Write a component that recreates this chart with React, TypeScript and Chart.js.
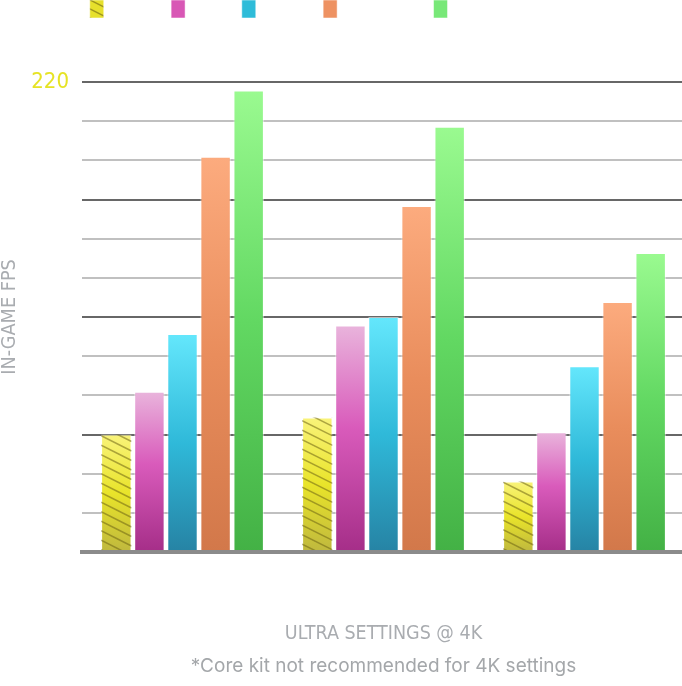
import React, { useEffect, useRef } from 'react';
import { Chart, registerables } from 'chart.js';

Chart.register(...registerables);

// ---------- data ----------
const categories = ['Fortnite', 'Call of Duty: Warzone', 'Cyberpunk 2077'];
const seriesLabels = ['Core Kit *', 'Plus Kit', 'Power Kit', 'Enthusiast Kit+', 'Ultimate Kit + RTX 4090 Ti'];
const coreKit = [55, 63, 33];
const plusKit = [75, 106, 56];
const powerKit = [102, 110, 87];
const enthusiastKit = [185, 162, 117];
const ultimateKit = [216, 199, 140];
const yMin = 0;
const yMax = 220;
const yTickCount = 13;
const yTitle = 'IN-GAME FPS';
const xTitle = 'ULTRA SETTINGS @ 4K';
const footnote = '*Core kit not recommended for 4K settings';

// ---------- styles ----------
const NARROW = "'DejaVu Sans Condensed', 'DejaVu Sans', sans-serif";
const gradients: [number, string][][] = [
  [[0, '#f9f37a'], [0.5, '#e9e42a'], [1, '#bfb83e']],
  [[0, '#e9b4dc'], [0.45, '#d95bbb'], [1, '#a52e88']],
  [[0, '#64e7fc'], [0.5, '#2fb9d9'], [1, '#2683a4']],
  [[0, '#fcab7e'], [0.5, '#e98d5c'], [1, '#d2784a']],
  [[0, '#9afa90'], [0.5, '#62d862'], [1, '#43b145']],
];
const legendColors = ['#e6e02c', '#d857b5', '#2ebcd9', '#ee9262', '#78e878'];
const gridDark = '#676767';
const gridLight = '#c0c0c0';
const axisGray = '#a9acb0';
const yellowText = '#e6e324';

function barGradient(stops: [number, string][], fallback: string) {
  return (c: any) => {
    const chart = c.chart;
    if (!chart.chartArea || c.type !== 'data') return fallback;
    const y = chart.scales.y;
    const top = y.getPixelForValue(c.raw);
    const bottom = y.getPixelForValue(0);
    if (!isFinite(top) || !isFinite(bottom) || top === bottom) return fallback;
    const g = chart.ctx.createLinearGradient(0, top, 0, bottom);
    stops.forEach(([o, col]) => g.addColorStop(o, col));
    return g;
  };
}

function makeHatchPattern(ctx: CanvasRenderingContext2D) {
  const c = document.createElement('canvas');
  c.width = 18;
  c.height = 9;
  const p = c.getContext('2d')!;
  p.fillStyle = legendColors[0];
  p.fillRect(0, 0, 18, 9);
  p.strokeStyle = 'rgba(110,100,20,0.6)';
  p.lineWidth = 1.5;
  for (const dy of [-9, 0, 9]) {
    p.beginPath();
    p.moveTo(0, dy);
    p.lineTo(18, dy + 9);
    p.stroke();
  }
  return ctx.createPattern(c, 'repeat');
}

const hatchPlugin = {
  id: 'hatchBars',
  afterDatasetDraw(chart: any, args: any) {
    if (args.index !== 0) return;
    const ctx = chart.ctx as CanvasRenderingContext2D;
    args.meta.data.forEach((el: any) => {
      const { x, y, base, width } = el.getProps(['x', 'y', 'base', 'width'], true);
      const left = x - width / 2;
      const right = x + width / 2;
      const top = Math.min(y, base);
      const bottom = Math.max(y, base);
      ctx.save();
      ctx.beginPath();
      ctx.rect(left, top, width, bottom - top);
      ctx.clip();
      ctx.strokeStyle = 'rgba(110,100,20,0.55)';
      ctx.lineWidth = 1.5;
      const step = 9.5;
      const drop = 0.5 * width;
      for (let c0 = top - drop - step + (top % step); c0 < bottom + step; c0 += step) {
        ctx.beginPath();
        ctx.moveTo(left, c0);
        ctx.lineTo(right, c0 + drop);
        ctx.stroke();
      }
      ctx.restore();
    });
  },
};

const CANVAS_W = 685;
const CANVAS_H = 686;

export default function App() {
  const ref = useRef<HTMLCanvasElement | null>(null);

  useEffect(() => {
    document.body.style.margin = '0';
    document.body.style.overflow = 'hidden';
    const canvas = ref.current;
    if (!canvas) return;
    const ctx2d = canvas.getContext('2d')!;
    const hatch = makeHatchPattern(ctx2d);
    const series = [coreKit, plusKit, powerKit, enthusiastKit, ultimateKit];

    const chart = new Chart(canvas, {
      type: 'bar',
      data: {
        labels: categories,
        datasets: series.map((vals, i) => ({
          label: seriesLabels[i],
          data: vals,
          backgroundColor: barGradient(gradients[i], legendColors[i]),
          borderColor: 'rgba(255,255,255,0.55)',
          borderWidth: 1,
          categoryPercentage: 0.823,
          barPercentage: 0.92,
        })),
      },
      plugins: [hatchPlugin],
      options: {
        animation: false,
        responsive: false,
        maintainAspectRatio: false,
        layout: { padding: { top: -10, right: 0, left: 0, bottom: 0 } },
        plugins: {
          tooltip: { enabled: false },
          title: {
            display: true,
            text: '',
            weight: 500,
            padding: 0,
            font: { size: 54, lineHeight: 1 },
          } as any,
          legend: {
            display: true,
            position: 'top',
            labels: {
              boxWidth: 14,
              boxHeight: 18,
              padding: 10,
              color: '#ffffff',
              font: { family: 'Liberation Sans', size: 12 },
              generateLabels: (chart: any) => {
                const items = (Chart.defaults.plugins.legend.labels as any).generateLabels(chart);
                return items.map((it: any, i: number) => ({
                  ...it,
                  fillStyle: i === 0 && hatch ? hatch : legendColors[i],
                  strokeStyle: 'rgba(255,255,255,0.5)',
                  lineWidth: 1,
                  fontColor: '#ffffff',
                }));
              },
            },
          },
        },
        scales: {
          x: {
            type: 'category',
            position: 'bottom',
            grid: { display: false },
            border: { display: true, color: '#8b8b8b', width: 4, z: 1 },
            ticks: { color: '#ffffff', font: { size: 12 } },
            title: {
              display: true,
              text: xTitle,
              color: axisGray,
              font: { family: NARROW, size: 19.5, lineHeight: 1.2 },
              padding: { top: 0, bottom: 2 },
            },
            afterFit: (s: any) => {
              s.height = 96;
            },
          },
          x2: {
            type: 'category',
            position: 'bottom',
            weight: 1,
            grid: { display: false },
            border: { display: false },
            ticks: { display: false },
            title: {
              display: true,
              text: footnote,
              color: '#a4a7aa',
              font: { family: 'Inter', size: 19, lineHeight: 1.2 },
              padding: { top: 0, bottom: 8 },
            },
            afterFit: (s: any) => {
              s.height = 38;
            },
          },
          y: {
            type: 'linear',
            min: yMin,
            max: yMax,
            grid: {
              drawTicks: false,
              lineWidth: 2,
              color: (c: any) =>
                c.index === 0 ? 'rgba(0,0,0,0)' : c.index % 3 === 0 ? gridDark : gridLight,
            },
            border: { display: false },
            ticks: {
              count: yTickCount,
              padding: 13,
              font: { family: NARROW, size: 22 },
              color: (c: any) => (c.tick && Math.round(c.tick.value) === yMax ? yellowText : '#ffffff'),
              callback: (v: any) => String(Math.round(Number(v))),
            },
            title: {
              display: true,
              text: yTitle,
              color: axisGray,
              font: { family: NARROW, size: 19.7, lineHeight: 1 },
              padding: 0,
            },
            afterFit: (s: any) => {
              s.width = 82;
            },
          },
        },
      } as any,
    });

    return () => chart.destroy();
  }, []);

  return (
    <div style={{ width: 682, height: CANVAS_H, overflow: 'hidden' }}>
      <canvas
        ref={ref}
        width={CANVAS_W}
        height={CANVAS_H}
        style={{ display: 'block', width: CANVAS_W, height: CANVAS_H }}
      />
    </div>
  );
}
